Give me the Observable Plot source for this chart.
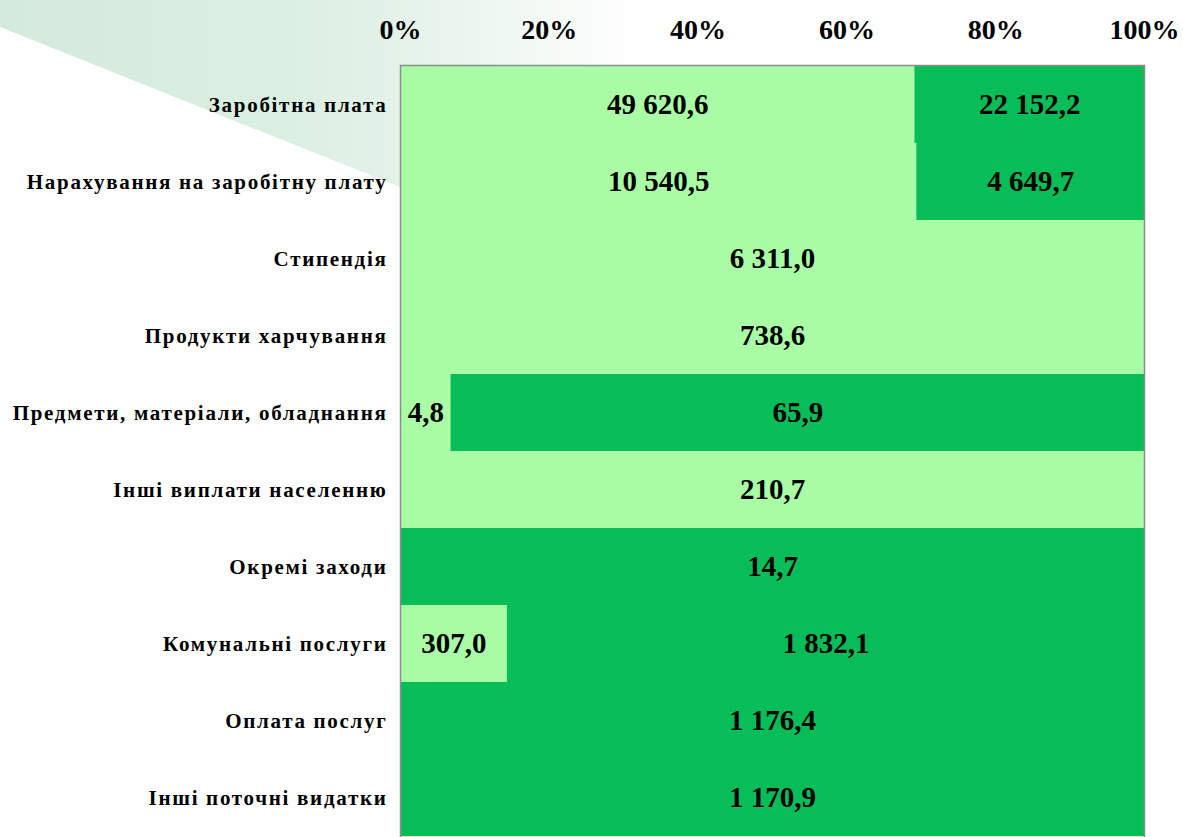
<!DOCTYPE html>
<html><head><meta charset="utf-8">
<script src="https://cdn.jsdelivr.net/npm/d3@7"></script>
<script src="https://cdn.jsdelivr.net/npm/@observablehq/plot@0.6"></script>
<style>
html,body{margin:0;padding:0;background:#fff;overflow:hidden}
#wrap{position:relative;width:1183px;height:837px}
#bg{position:absolute;left:0;top:0;width:1183px;height:837px;background:linear-gradient(90deg,#d4eadc 0px,#dcefe3 300px,#e6f3ea 420px,#ffffff 640px);clip-path:polygon(0 0,800px 0,800px 347px,0 27px)}
#chart{position:absolute;left:0;top:0}
#chart g[aria-label="y-axis tick label"] text{letter-spacing:1.7px}
</style></head>
<body><div id="wrap"><div id="bg"></div><div id="chart"></div></div>
<script>
const categories = [
  "Заробітна плата",
  "Нарахування на заробітну плату",
  "Стипендія",
  "Продукти харчування",
  "Предмети, матеріали, обладнання",
  "Інші виплати населенню",
  "Окремі заходи",
  "Комунальні послуги",
  "Оплата послуг",
  "Інші поточні видатки"
];
const generalFund = [49620.6, 10540.5, 6311.0, 738.6, 4.8, 210.7, null, 307.0, null, null];
const specialFund = [22152.2, 4649.7, null, null, 65.9, null, 14.7, 1832.1, 1176.4, 1170.9];
const seriesNames = ["Загальний фонд", "Спеціальний фонд"];
const seriesColors = ["#a9fea5", "#07bd58"];
const xTicks = [0, 0.2, 0.4, 0.6, 0.8, 1];

const rows = [];
categories.forEach((c, i) => {
  if (generalFund[i] != null) rows.push({category: c, series: seriesNames[0], value: generalFund[i]});
  if (specialFund[i] != null) rows.push({category: c, series: seriesNames[1], value: specialFund[i]});
});

const locale = d3.formatLocale({decimal: ",", thousands: "\u00a0", grouping: [3], currency: ["", ""]});
const fmt = locale.format(",.1f");
const serif = "'Liberation Serif', 'Times New Roman', serif";

const chart = Plot.plot({
  width: 1183,
  height: 837,
  marginLeft: 400,
  marginRight: 39,
  marginTop: 65,
  marginBottom: 0,
  style: {background: "transparent", fontFamily: serif},
  x: {domain: [0, 1]},
  y: {domain: categories, padding: 0},
  color: {domain: seriesNames, range: seriesColors},
  marks: [
    Plot.barX(rows, Plot.stackX({x: "value", y: "category", fill: "series", offset: "normalize"})),
    Plot.text(rows, Plot.stackX({
      x: "value", y: "category", z: "series", offset: "normalize",
      text: d => fmt(d.value),
      fontSize: 29, fontWeight: "bold", fontFamily: serif, fill: "black"
    })),
    Plot.frame({stroke: "#8c8c8c", strokeWidth: 1.5}),
    Plot.axisX({anchor: "top", ticks: xTicks, tickFormat: d3.format(".0%"), tickSize: 0, tickPadding: 27,
      fontSize: 28, fontWeight: "bold", fontFamily: serif, label: null}),
    Plot.axisY({tickSize: 0, tickPadding: 13, fontSize: 21, fontWeight: "bold", fontFamily: serif, label: null})
  ]
});
document.getElementById("chart").appendChild(chart);
</script>
</body></html>
